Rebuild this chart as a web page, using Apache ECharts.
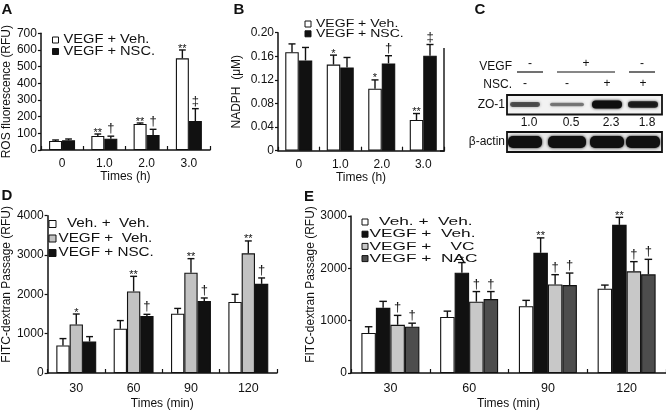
<!DOCTYPE html>
<html><head><meta charset="utf-8">
<script src="https://cdn.jsdelivr.net/npm/echarts@6/dist/echarts.min.js"></script>
<style>html,body{margin:0;padding:0;background:#fff}#c{width:666px;height:411px}</style>
</head><body><div id="c"></div>
<script>
// ---------- data ----------
const timesH = ['0', '1.0', '2.0', '3.0'];
const timesMin = ['30', '60', '90', '120'];

const A_yTicks = ['0', '100', '200', '300', '400', '500', '600', '700'];
const A_vegfVeh = [54, 84, 156, 550];
const A_vegfVehErr = [6, 12, 6, 50];
const A_vegfVehSig = ['', '**', '**', '**'];
const A_vegfNsc = [58, 68, 90, 174];
const A_vegfNscErr = [8, 15, 34, 74];
const A_vegfNscSig = ['', '†', '†', '‡'];

const B_yTicks = ['0', '0.04', '0.08', '0.12', '0.16', '0.20'];
const B_vegfVeh = [0.167, 0.146, 0.105, 0.052];
const B_vegfVehErr = [0.014, 0.016, 0.015, 0.011];
const B_vegfVehSig = ['', '*', '*', '**'];
const B_vegfNsc = [0.153, 0.141, 0.148, 0.161];
const B_vegfNscErr = [0.022, 0.017, 0.013, 0.019];
const B_vegfNscSig = ['', '', '†', '‡'];

const C_vegfRow = ['-', '+', '-'];
const C_nscRow = ['-', '-', '+', '+'];
const C_zo1 = [1.0, 0.5, 2.3, 1.8];
const C_zo1Labels = ['1.0', '0.5', '2.3', '1.8'];

const D_yTicks = ['0', '1000', '2000', '3000', '4000'];
const D_vehVeh = [700, 1125, 1508, 1808];
const D_vehVehErr = [175, 208, 134, 192];
const D_vehVehSig = ['', '', '', ''];
const D_vegfVeh = [1233, 2075, 2550, 3042];
const D_vegfVehErr = [267, 383, 358, 316];
const D_vegfVehSig = ['*', '**', '**', '**'];
const D_vegfNsc = [800, 1450, 1833, 2267];
const D_vegfNscErr = [125, 42, 75, 150];
const D_vegfNscSig = ['', '†', '†', '†'];

const E_yTicks = ['0', '1000', '2000', '3000'];
const E_vehVeh = [765, 1070, 1276, 1612];
const E_vehVehErr = [119, 112, 112, 68];
const E_vehVehSig = ['', '', '', ''];
const E_vegfVeh = [1245, 1917, 2296, 2831];
const E_vegfVehErr = [124, 193, 286, 143];
const E_vegfVehSig = ['', '*', '**', '**'];
const E_vegfVc = [921, 1363, 1693, 1942];
const E_vegfVcErr = [180, 193, 186, 186];
const E_vegfVcSig = ['†', '†', '†', '†'];
const E_vegfNac = [884, 1413, 1680, 1885];
const E_vegfNacErr = [68, 143, 230, 287];
const E_vegfNacSig = ['†', '†', '†', '†'];

// ---------- styling helpers ----------
const NARROW = '"Liberation Sans Narrow","Liberation Sans",Arial,sans-serif';
const SANS = '"Liberation Sans",Arial,sans-serif';
const INK = '#111';

function xAx(g, cats, name, fs, margin, nameGap) {
  return {
    type: 'category', gridIndex: g, data: cats,
    axisLine: { lineStyle: { color: INK, width: 1.5 } },
    axisTick: { show: true, inside: true, length: 4, lineStyle: { color: INK, width: 1.2 } },
    axisLabel: { color: INK, fontSize: fs, fontFamily: NARROW, margin: margin },
    name: name, nameLocation: 'middle', nameGap: nameGap,
    nameTextStyle: { color: INK, fontSize: 12, fontFamily: NARROW }
  };
}
function yAx(g, max, interval, ticks, name, nameGap, nfs, shiftUp) {
  return {
    type: 'value', gridIndex: g, min: 0, max: max, interval: interval,
    axisLine: { show: true, lineStyle: { color: INK, width: 1.5 } },
    axisTick: { show: true, length: 3, lineStyle: { color: INK, width: 1.2 } },
    splitLine: { show: false },
    axisLabel: { color: INK, fontSize: 12, fontFamily: NARROW, margin: 4,
      formatter: function (v) { return ticks[Math.round(v / interval)]; } },
    name: name, nameLocation: 'middle', nameGap: nameGap, nameRotate: 90,
    nameTextStyle: { color: INK, fontSize: nfs, fontFamily: NARROW, padding: [0, 0, 0, shiftUp * 2] }
  };
}
function bar(g, name, vals, color, bw) {
  return {
    type: 'bar', name: name, xAxisIndex: g, yAxisIndex: g, data: vals,
    barWidth: bw, barGap: '0%', animation: false,
    itemStyle: { color: color, borderColor: INK, borderWidth: 1.1 }
  };
}
function err(g, vals, errs, sigs, k, n, bw) {
  return {
    type: 'custom', xAxisIndex: g, yAxisIndex: g, z: 5, animation: false,
    encode: { x: 0, y: [1, 2] },
    data: vals.map(function (v, i) { return [i, v, v + errs[i]]; }),
    renderItem: function (params, api) {
      const i = api.value(0);
      const b = api.coord([i, api.value(1)]);
      const t = api.coord([i, api.value(2)]);
      const x = b[0] + (k - (n - 1) / 2) * bw;
      const cw = bw * 0.26;
      const ch = [
        { type: 'line', shape: { x1: x, y1: b[1], x2: x, y2: t[1] }, style: { stroke: INK, lineWidth: 1.4 } },
        { type: 'line', shape: { x1: x - cw, y1: t[1], x2: x + cw, y2: t[1] }, style: { stroke: INK, lineWidth: 1.4 } }
      ];
      const s = sigs[params.dataIndex];
      if (s) {
        const star = s.indexOf('*') >= 0;
        ch.push({ type: 'text', style: {
          text: s, x: x, y: star ? t[1] + 4 : t[1] - 1,
          textAlign: 'center', textVerticalAlign: 'bottom',
          fontSize: star ? 11 : 13, fontFamily: SANS, fill: INK } });
      }
      return { type: 'group', children: ch };
    }
  };
}

// ---------- legends & panel C as graphics ----------
function legend(x, y0, step, sq, gap, items, fs, fam, sx) {
  const out = [];
  items.forEach(function (it, i) {
    const cy = y0 + i * step;
    out.push({ type: 'rect', shape: { x: x, y: cy - sq / 2, width: sq, height: sq },
      style: { fill: it[1], stroke: INK, lineWidth: 1 } });
    out.push({ type: 'text', x: x + sq + gap, y: cy, scaleX: sx, scaleY: 1,
      style: { text: it[0], x: 0, y: 0, textVerticalAlign: 'middle',
        fontSize: fs, fontFamily: fam, fill: INK } });
  });
  return out;
}
function letter(t, x, y) {
  return { type: 'text', style: { text: t, x: x, y: y, textAlign: 'center', textVerticalAlign: 'middle',
    fontSize: 15, fontWeight: 'bold', fontFamily: SANS, fill: INK } };
}
function txt(t, x, y, fs, align) {
  return { type: 'text', style: { text: t, x: x, y: y, textAlign: align || 'center', textVerticalAlign: 'middle',
    fontSize: fs, fontFamily: NARROW, fill: INK } };
}

const g = [];
g.push(letter('A', 7, 10), letter('B', 239, 10), letter('C', 480, 10), letter('D', 7, 196), letter('E', 309, 197));
g.push.apply(g, legend(52.5, 40, 11.5, 6, 5, [['VEGF + Veh.', '#fff'], ['VEGF + NSC.', INK]], 12, NARROW, 1.22));
g.push.apply(g, legend(305, 24, 9.8, 6, 5, [['VEGF + Veh.', '#fff'], ['VEGF + NSC.', INK]], 11.5, NARROW, 1.22));
g.push.apply(g, legend(49, 224, 14.5, 7, 2.5, [['  Veh. +  Veh.', '#fff'], ['VEGF +  Veh.', '#c2c2c2'], ['VEGF + NSC.', INK]], 12.5, NARROW, 1.22));
g.push.apply(g, legend(362, 222, 12.2, 6, 1.5, [['  Veh. +  Veh.', '#fff'], ['VEGF +  Veh.', INK], ['VEGF +    VC', '#c8c8c8'], ['VEGF +  NAC', '#4d4d4d']], 11.5, SANS, 1.5));

// bracket line at right of panel B
g.push({ type: 'polyline', shape: { points: [[440, 151], [444, 151], [444, 48]] }, style: { stroke: INK, lineWidth: 1.4, fill: null } });

// panel C: western blot
const laneX = [525, 567, 607, 643];
const laneW = [30, 34, 30, 30];
g.push(txt('VEGF', 512, 67, 12, 'right'));
g.push(txt('NSC.', 512, 85, 12, 'right'));
g.push(txt('ZO-1', 505, 105, 12, 'right'));
g.push(txt('β-actin', 505, 142, 12, 'right'));
const vegfSpans = [[517, 543], [557, 615], [629, 655]];
vegfSpans.forEach(function (s, i) {
  g.push({ type: 'line', shape: { x1: s[0], y1: 72, x2: s[1], y2: 72 }, style: { stroke: INK, lineWidth: 1.2 } });
  g.push(txt(C_vegfRow[i], (s[0] + s[1]) / 2, 64, 12));
});
C_nscRow.forEach(function (s, i) { g.push(txt(s, laneX[i], 84, 12)); });
C_zo1Labels.forEach(function (s, i) { g.push(txt(s, laneX[i] + 4, 123, 12)); });
g.push({ type: 'rect', shape: { x: 507, y: 95, width: 155, height: 19.5 }, style: { fill: '#f2f2f2', stroke: INK, lineWidth: 1.8 } });
g.push({ type: 'rect', shape: { x: 507, y: 132, width: 155, height: 20 }, style: { fill: '#e8e8e8', stroke: INK, lineWidth: 1.8 } });
C_zo1.forEach(function (v, i) {
  const h = 2.5 + 2.3 * v;
  const a = Math.min(1, 0.32 + 0.3 * v);
  const col = 'rgba(15,15,15,' + a.toFixed(2) + ')';
  g.push({ type: 'rect', shape: { x: laneX[i] - laneW[i] / 2, y: 104.5 - h / 2, width: laneW[i], height: h, r: h / 2 },
    style: { fill: col, shadowBlur: 3, shadowColor: col } });
});
laneX.forEach(function (x, i) {
  g.push({ type: 'rect', shape: { x: x - laneW[i] / 2 - 2, y: 136, width: laneW[i] + 4, height: 12, r: 5 },
    style: { fill: '#111', shadowBlur: 3, shadowColor: '#111' } });
});

// ---------- chart ----------
const chart = echarts.init(document.getElementById('c'), null, { renderer: 'canvas' });
chart.setOption({
  animation: false,
  backgroundColor: '#fff',
  grid: [
    { left: 40, top: 33.3, width: 170, height: 116.7 },
    { left: 278, top: 32.7, width: 166, height: 118 },
    { left: 42, top: 215.7, width: 235, height: 160.3 },
    { left: 351, top: 216, width: 315, height: 160.7 }
  ],
  xAxis: [
    xAx(0, timesH, 'Times (h)', 12, 8, 21),
    xAx(1, timesH, 'Times (h)', 12, 8, 21),
    xAx(2, timesMin, 'Times (min)', 12.5, 9, 25),
    xAx(3, timesMin, 'Times (min)', 12.5, 9, 25)
  ],
  yAxis: [
    yAx(0, 700, 100, A_yTicks, 'ROS fluorescence (RFU)', 27, 12, 0),
    yAx(1, 0.2, 0.04, B_yTicks, 'NADPH  (μM)', 35, 12, 0),
    yAx(2, 4000, 1000, D_yTicks, 'FITC-dextran Passage (RFU)', 26, 12, 10),
    yAx(3, 3000, 1000, E_yTicks, 'FITC-dextran Passage (RFU)', 29, 12, 10)
  ],
  series: [
    bar(0, 'A VEGF + Veh.', A_vegfVeh, '#fff', 13),
    bar(0, 'A VEGF + NSC.', A_vegfNsc, INK, 13),
    err(0, A_vegfVeh, A_vegfVehErr, A_vegfVehSig, 0, 2, 13),
    err(0, A_vegfNsc, A_vegfNscErr, A_vegfNscSig, 1, 2, 13),

    bar(1, 'B VEGF + Veh.', B_vegfVeh, '#fff', 13.5),
    bar(1, 'B VEGF + NSC.', B_vegfNsc, INK, 13.5),
    err(1, B_vegfVeh, B_vegfVehErr, B_vegfVehSig, 0, 2, 13.5),
    err(1, B_vegfNsc, B_vegfNscErr, B_vegfNscSig, 1, 2, 13.5),

    bar(2, 'D Veh. + Veh.', D_vehVeh, '#fff', 13.3),
    bar(2, 'D VEGF + Veh.', D_vegfVeh, '#c2c2c2', 13.3),
    bar(2, 'D VEGF + NSC.', D_vegfNsc, INK, 13.3),
    err(2, D_vehVeh, D_vehVehErr, D_vehVehSig, 0, 3, 13.3),
    err(2, D_vegfVeh, D_vegfVehErr, D_vegfVehSig, 1, 3, 13.3),
    err(2, D_vegfNsc, D_vegfNscErr, D_vegfNscSig, 2, 3, 13.3),

    bar(3, 'E Veh. + Veh.', E_vehVeh, '#fff', 14.5),
    bar(3, 'E VEGF + Veh.', E_vegfVeh, INK, 14.5),
    bar(3, 'E VEGF + VC', E_vegfVc, '#c8c8c8', 14.5),
    bar(3, 'E VEGF + NAC', E_vegfNac, '#4d4d4d', 14.5),
    err(3, E_vehVeh, E_vehVehErr, E_vehVehSig, 0, 4, 14.5),
    err(3, E_vegfVeh, E_vegfVehErr, E_vegfVehSig, 1, 4, 14.5),
    err(3, E_vegfVc, E_vegfVcErr, E_vegfVcSig, 2, 4, 14.5),
    err(3, E_vegfNac, E_vegfNacErr, E_vegfNacSig, 3, 4, 14.5)
  ],
  graphic: g
});
</script>
</body></html>
